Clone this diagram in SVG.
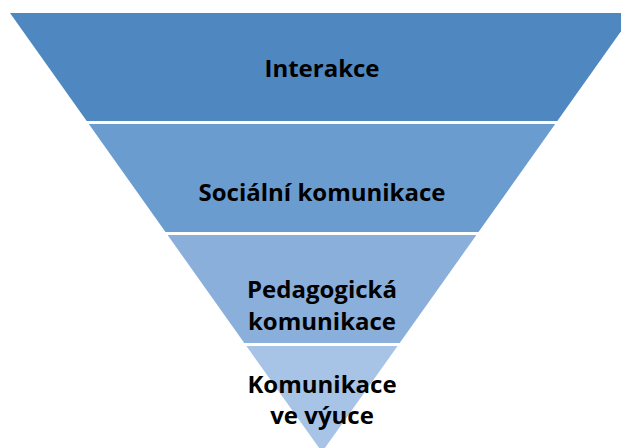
<svg xmlns="http://www.w3.org/2000/svg" width="621" height="448" viewBox="0 0 621 448">
  <style>
    .lbl { font-family: "Open Sans", "Liberation Sans", sans-serif; font-weight: 700; font-size: 24px; fill: #000; text-anchor: middle; }
  </style>
  <rect width="621" height="448" fill="#ffffff"/>
  <g id="level-1">
    <polygon points="10,13 634,13 557.3,121 86.7,121" fill="#4F87C1"/>
    <text class="lbl" x="322" y="77">Interakce</text>
  </g>
  <g id="level-2">
    <polygon points="88.8,124 555.2,124 478.5,232 165.5,232" fill="#6B9CCF"/>
    <text class="lbl" x="322" y="201">Sociální komunikace</text>
  </g>
  <g id="level-3">
    <polygon points="167.6,235 476.4,235 399.7,343 244.3,343" fill="#8AAFDA"/>
    <text class="lbl" x="322" y="298">Pedagogická</text>
    <text class="lbl" x="322" y="330">komunikace</text>
  </g>
  <g id="level-4">
    <polygon points="246.4,346 397.6,346 322,452" fill="#A7C3E6"/>
    <text class="lbl" x="322" y="393">Komunikace</text>
    <text class="lbl" x="322" y="424">ve výuce</text>
  </g>
  <g id="connectors"/>
</svg>
